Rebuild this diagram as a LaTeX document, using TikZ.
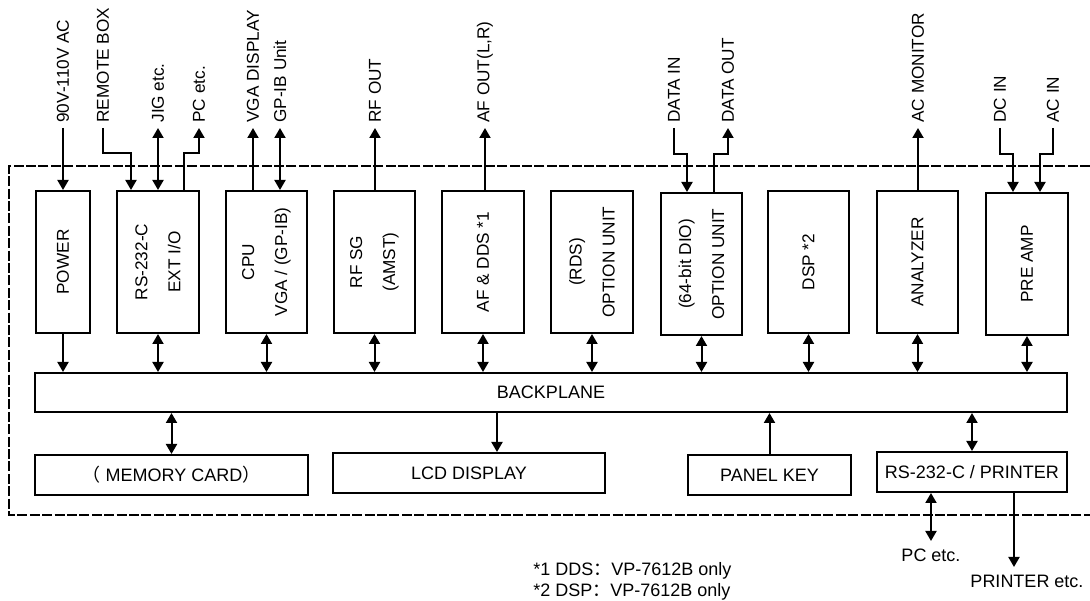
\documentclass[tikz,border=0pt]{standalone}
\usepackage{fontspec}
\setmainfont{Liberation Sans}
\newfontfamily\cjk{Noto Sans CJK SC}
\usetikzlibrary{arrows.meta,calc}

\begin{document}
\begin{tikzpicture}[
    x=0.5bp, y=-0.5bp,
    font=\fontsize{9bp}{11bp}\selectfont,
    >={Triangle[length=5bp,width=5.5bp]},
    link/.style={line width=1bp},
    unit/.style={draw,line width=1bp,minimum height=71bp,inner sep=0pt},
    vtext/.style={rotate=90,align=center,font=\fontsize{8.6bp}{16.5bp}\selectfont},
    hbox/.style={draw,line width=1bp,minimum height=20bp,inner sep=0pt},
    toplbl/.style={rotate=90,anchor=west,inner sep=2.5bp,font=\fontsize{8.6bp}{10bp}\selectfont},
    frame/.style={line width=0.6bp,dash pattern=on 5bp off 1.2bp}
  ]
    \useasboundingbox (0,0) rectangle (1090,601);

    % plug-in units
    \node[unit,minimum width=27bp,label={[vtext]center:POWER}] (power) at (63,262) {};
    \node[unit,minimum width=41bp,label={[vtext]center:{RS-232-C\\EXT I/O}}] (rs) at (158,262) {};
    \node[unit,minimum width=40.5bp,label={[vtext]center:{CPU\\VGA / (GP-IB)}}] (cpu) at (266.5,262) {};
    \node[unit,minimum width=40.5bp,label={[vtext]center:{RF SG\\(AMST)}}] (rfsg) at (374.5,262) {};
    \node[unit,minimum width=41bp,label={[vtext]center:{AF \& DDS *1}}] (afdds) at (483,262) {};
    \node[unit,minimum width=41bp,label={[vtext]center:{(RDS)\\OPTION UNIT}}] (rds) at (592,262) {};
    \node[unit,minimum width=40.5bp,label={[vtext]center:{(64-bit DIO)\\OPTION UNIT}}] (dio) at (701.5,264) {};
    \node[unit,minimum width=40.5bp,label={[vtext]center:{DSP *2}}] (dsp) at (808.5,262) {};
    \node[unit,minimum width=40.5bp,label={[vtext]center:ANALYZER}] (ana) at (917.5,262) {};
    \node[unit,minimum width=41bp,label={[vtext]center:{PRE AMP}}] (pre) at (1027,264) {};

    \node[hbox,minimum width=516bp,minimum height=19.5bp] (back) at (551,392.5) {BACKPLANE};

    \node[hbox,minimum width=136.5bp] (mem) at (171.5,475) {{\cjk （} MEMORY CARD{\cjk ）}};
    \node[hbox,minimum width=136bp] (lcd) at (469,473) {LCD DISPLAY};
    \node[hbox,minimum width=81.5bp] (key) at (769.5,475) {PANEL KEY};
    \node[hbox,minimum width=95bp] (rsp) at (972,472) {RS-232-C / PRINTER};

    % outside connections
    \node[toplbl] (acpow) at (63,128) {90V-110V AC};
    \node[toplbl] (remote) at (103,128) {REMOTE BOX};
    \node[toplbl] (jig) at (158,128) {JIG etc.};
    \node[toplbl] (pcin) at (199,128) {PC etc.};
    \node[toplbl] (vga) at (253,128) {VGA DISPLAY};
    \node[toplbl] (gpib) at (280,128) {GP-IB Unit};
    \node[toplbl] (rfout) at (375,128) {RF OUT};
    \node[toplbl] (afout) at (485,128) {AF OUT(L,R)};
    \node[toplbl] (datain) at (674,128) {DATA IN};
    \node[toplbl] (dataout) at (728,128) {DATA OUT};
    \node[toplbl] (acmon) at (918,128) {AC MONITOR};
    \node[toplbl] (dcin) at (1000,128) {DC IN};
    \node[toplbl] (acin) at (1053,128) {AC IN};

    \node[inner sep=4bp,anchor=north] (pc) at (931,541) {PC etc.};
    \node[inner sep=4bp,anchor=north] (prn) at (1027,567) {PRINTER etc.};

    \coordinate (rsa) at ($(rs.north)+(-27,0)$);
    \coordinate (rsc) at ($(rs.north)+(26,0)$);
    \coordinate (dioa) at ($(dio.north)+(-14.5,0)$);
    \coordinate (diob) at ($(dio.north)+(12.5,0)$);
    \coordinate (prea) at ($(pre.north)+(-14,0)$);
    \coordinate (preb) at ($(pre.north)+(13,0)$);
    \coordinate (lcdin) at ($(lcd.north)+(28,0)$);
    \coordinate (prnout) at ($(prn.north)+(-13,0)$);

    \draw[link,->] (acpow.west) -- (acpow.west |- power.north);
    \draw[link,->] (remote.west) -- ++(0,25) -| (rsa);
    \draw[link,<->] (jig.west) -- (jig.west |- rs.north);
    \draw[link,->] (rsc) |- ($(pcin.west)+(0,25)$) -- (pcin.west);
    \draw[link,->] (vga.west |- cpu.north) -- (vga.west);
    \draw[link,<->] (gpib.west) -- (gpib.west |- cpu.north);
    \draw[link,->] (rfout.west |- rfsg.north) -- (rfout.west);
    \draw[link,->] (afout.west |- afdds.north) -- (afout.west);
    \draw[link,->] (datain.west) -- ++(0,26) -| (dioa);
    \draw[link,->] (diob) |- ($(dataout.west)+(0,26)$) -- (dataout.west);
    \draw[link,->] (acmon.west |- ana.north) -- (acmon.west);
    \draw[link,->] (dcin.west) -- ++(0,26) -| (prea);
    \draw[link,->] (acin.west) -- ++(0,26) -| (preb);

    % backplane bus
    \draw[link,->] (power.south) -- (power.south |- back.north);
    \foreach \u in {rs,cpu,rfsg,afdds,rds,dio,dsp,ana,pre}
      \draw[link,<->] (\u.south) -- (\u.south |- back.north);
    \draw[link,<->] (mem.north) -- (mem.north |- back.south);
    \draw[link,->] (lcdin |- back.south) -- (lcdin);
    \draw[link,->] (key.north) -- (key.north |- back.south);
    \draw[link,<->] (rsp.north) -- (rsp.north |- back.south);

    \draw[link,<->] (pc.north |- rsp.south) -- (pc.north);
    \draw[link,->] (prnout |- rsp.south) -- (prnout);

    \draw[frame] (1090,166) -- (9,166) -- (9,515) -- (1090,515);

    \node[anchor=west,inner sep=0pt] (note1) at (533,571) {*1 DDS{\cjk ：}VP-7612B only};
    \node[anchor=west,inner sep=0pt] (note2) at (533,592) {*2 DSP{\cjk ：}VP-7612B only};
  \end{tikzpicture}
\end{document}
